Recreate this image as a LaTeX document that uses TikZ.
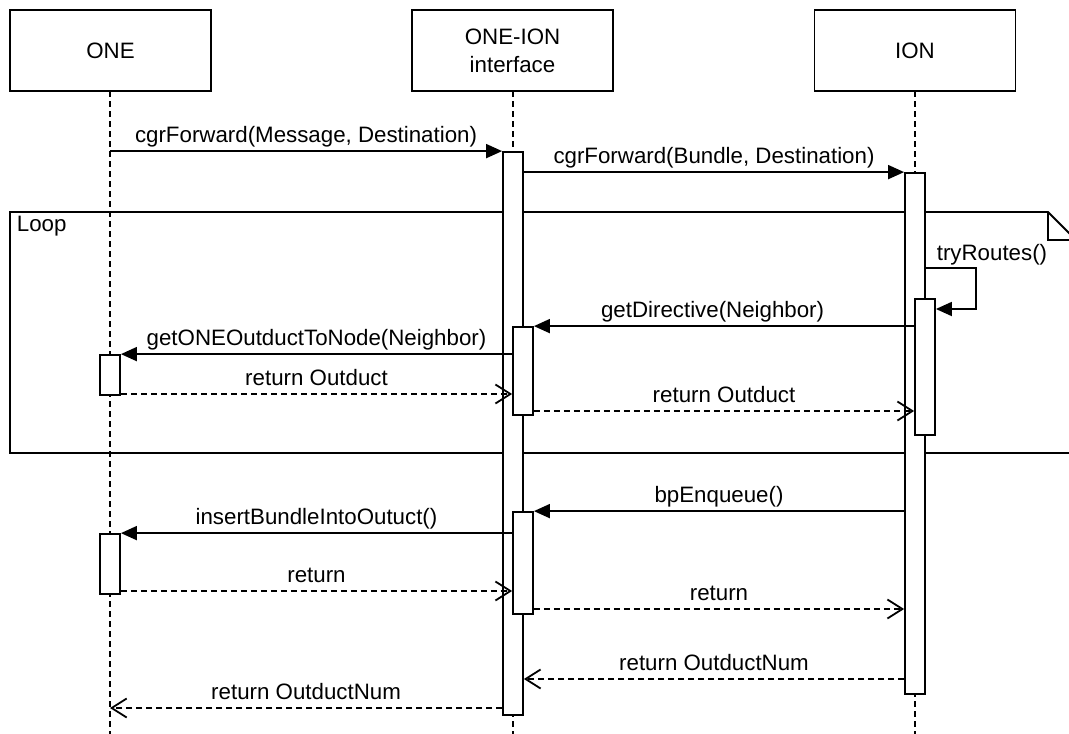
\documentclass[tikz,border=0pt]{standalone}
\usepackage{fontspec}
\setmainfont{Liberation Sans}
\usetikzlibrary{arrows.meta}
\begin{document}
\begin{tikzpicture}[x=1pt,y=-1pt, line width=1.8pt,
  txt/.style={font=\fontsize{22.3}{26}\selectfont},
  head/.style={draw, txt, minimum width=201pt, minimum height=81pt, inner sep=0pt, align=center},
  act/.style={draw, fill=white, minimum width=20pt, inner sep=0pt},
  life/.style={dash pattern=on 6pt off 4pt, line width=1.6pt},
  msg/.style={-{Triangle[length=16pt,width=14pt]}},
  ret/.style={dash pattern=on 6pt off 4pt, -{Straight Barb[length=15pt,width=19pt]}},
  lbl/.style={txt, anchor=base, inner sep=0pt, yshift=9pt},
]
\useasboundingbox (0,0) rectangle (1069,734);
% loop frame
\begin{scope}
\clip (0,0) rectangle (1069,734);
\draw (10,212) -- (1048,212) -- (1076,240) -- (1076,453) -- (10,453) -- cycle;
\draw (1048,212) -- (1048,240) -- (1076,240);
\end{scope}
\node[txt, anchor=base west, inner sep=0pt] (looplbl) at (16,231) {Loop};
% heads
\node[head] (one) at (110.5,50.5) {ONE};
\node[head] (mid) at (512.5,50.5) {ONE-ION\\[2pt]interface};
\node[head] (ion) at (915,50.5) {ION};
% lifelines
\draw[life] (110,91) coordinate (oneb) -- (110,734) coordinate (onee);
\draw[life] (513,91) coordinate (midb) -- (513,734) coordinate (mide);
\draw[life] (915,91) coordinate (ionb) -- (915,734) coordinate (ione);
% activations
\node[act, minimum height=563pt] (A1) at (513,433.5) {};
\node[act, minimum height=521pt] (B1) at (915,433.5) {};
\node[act, minimum height=136pt] (B2) at (925,367) {};
\node[act, minimum height=88pt] (A2) at (523,371) {};
\node[act, minimum height=40pt] (O1) at (110,375) {};
\node[act, minimum height=102pt] (A3) at (523,563) {};
\node[act, minimum height=60pt] (O2) at (110,564) {};
% messages
\draw[msg] (oneb |- A1.north) -- node[lbl] {cgrForward(Message, Destination)} (A1.north west);
\draw[msg] (A1.east |- B1.north) -- node[lbl] {cgrForward(Bundle, Destination)} (B1.north west);
\coordinate (sc) at (976,268);
\coordinate (sd) at (976,309);
\draw[msg] (B1.east |- sc) -- (sc) -- (sd) -- (B2.east |- sd);
\node[txt, anchor=base, inner sep=0pt] (trl) at (992,260) {tryRoutes()};
\draw[msg] (B2.west |- A2.north) -- node[lbl, pos=0.53] {getDirective(Neighbor)} (A2.north east);
\draw[msg] (A2.west |- O1.north) -- node[lbl] {getONEOutductToNode(Neighbor)} (O1.north east);
\draw[ret] (O1.east |- 0,394) -- node[lbl] {return Outduct} (A2.west |- 0,394);
\draw[ret] (A2.east |- 0,411) -- node[lbl] {return Outduct} (B2.west |- 0,411);
\draw[msg] (B1.west |- A3.north) -- node[lbl] {bpEnqueue()} (A3.north east);
\draw[msg] (A3.west |- O2.north) -- node[lbl] {insertBundleIntoOutuct()} (O2.north east);
\draw[ret] (O2.east |- 0,591) -- node[lbl] {return} (A3.west |- 0,591);
\draw[ret] (A3.east |- 0,609) -- node[lbl] {return} (B1.west |- 0,609);
\draw[ret] (B1.west |- 0,679) -- node[lbl] {return OutductNum} (A1.east |- 0,679);
\draw[ret] (A1.west |- 0,708) -- node[lbl] {return OutductNum} (oneb |- 0,708);
\end{tikzpicture}
\end{document}
